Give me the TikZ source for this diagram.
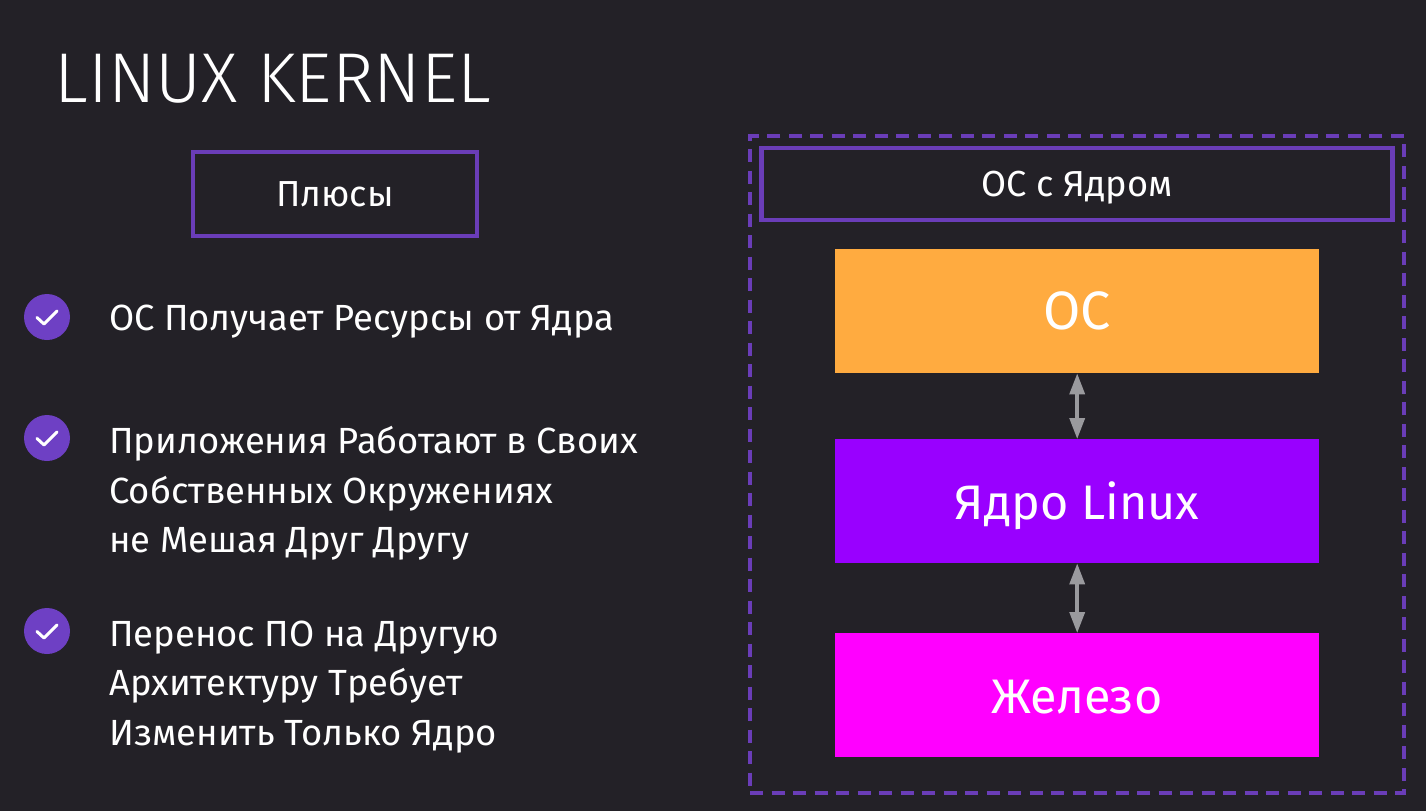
\documentclass[tikz,border=0pt]{standalone}
\usepackage{fontspec}
\setmainfont{Fira Sans}
\usetikzlibrary{arrows.meta}
\definecolor{bgc}{HTML}{232127}
\definecolor{pur}{HTML}{6A3DB8}
\definecolor{circ}{HTML}{6E40C4}
\definecolor{orangeb}{HTML}{FFAB40}
\definecolor{violetb}{HTML}{9900FF}
\definecolor{magb}{HTML}{FF00FF}
\definecolor{arr}{HTML}{9A9A9E}
\tikzset{
  x=1pt,y=-1pt,
  stack/.style={anchor=north west,minimum width=484pt,minimum height=124pt,inner sep=0pt,text=white,font=\fontsize{48.5}{48.5}\selectfont},
  lbl/.style={text=white,anchor=west,inner sep=0pt,font=\fontsize{36.4}{49.5}\selectfont,align=left},
  twoway/.style={draw=arr,line width=3.5pt,{Triangle[length=21pt,width=15pt]}-{Triangle[length=21pt,width=15pt]}},
  checkc/.style={circle,fill=circ,minimum size=46pt,inner sep=0pt},
  tick/.style={draw=white,line width=3pt,line cap=round,line join=round}
}
\begin{document}
\begin{tikzpicture}
\useasboundingbox (0,0) rectangle (1426,811);
\fill[bgc] (0,0) rectangle (1426,811);
\node[text=white,anchor=base west,inner sep=0pt,font=\fontsize{70.5}{70}\selectfont] (title) at (54.5,102) {\fontspec{Fira Sans Light}LINUX KERNEL};
\node[draw=pur,line width=4.5pt,inner sep=0pt,minimum width=284pt,minimum height=84pt,text=white,font=\fontsize{36.2}{36}\selectfont] (plus) at (335,194) {Плюсы};
\node[checkc] (c1) at (47,317) {};
\draw[tick] (37,317.5) -- (44,324) -- (57,311);
\node[checkc] (c2) at (47,438) {};
\draw[tick] (37,438.5) -- (44,445) -- (57,432);
\node[checkc] (c3) at (47,631) {};
\draw[tick] (37,631.5) -- (44,638) -- (57,625);
\node[lbl] (t1) at (109,322) {ОС Получает Ресурсы от Ядра};
\node[lbl] (t2) at (109,493.5) {Приложения Работают в Своих\\Собственных Окружениях\\не Мешая Друг Другу};
\node[lbl] (t3) at (109,687) {Перенос ПО на Другую\\Архитектуру Требует\\Изменить Только Ядро};
\node[draw=pur,line width=3.5pt,dash pattern=on 13pt off 8.5pt,inner sep=0pt,minimum width=654pt,minimum height=657pt] (outer) at (1077,464.5) {};
\node[draw=pur,line width=4.5pt,inner sep=0pt,minimum width=631pt,minimum height=72pt] (head) at (1077,184) {};
\node[text=white,inner sep=0pt,font=\fontsize{36.2}{36}\selectfont] (headt) at (1077,188) {ОС с Ядром};
\node[stack,fill=orangeb,font=\fontsize{54}{54}\selectfont] (os) at (835,249) {ОС};
\node[stack,fill=violetb] (kern) at (835,439) {};
\node[text=white,inner sep=0pt,font=\fontsize{48.5}{48.5}\selectfont] (kernt) at (1077,506) {Ядро Linux};
\node[stack,fill=magb] (hw) at (835,633) {};
\node[text=white,inner sep=0pt,font=\fontsize{48.5}{48.5}\selectfont] (hwt) at (1077,697) {Железо};
\draw[twoway] (os) -- (kern);
\draw[twoway] (kern) -- (hw);
\end{tikzpicture}
\end{document}
